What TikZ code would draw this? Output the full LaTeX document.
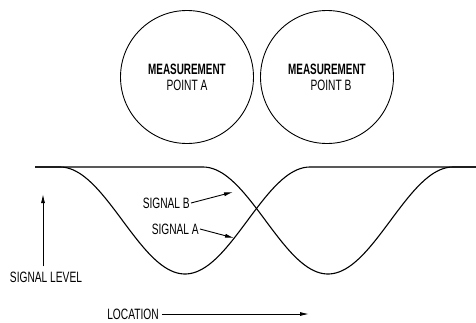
\documentclass[tikz,border=0pt]{standalone}
\usepackage{fontspec}
\newfontfamily\condfont[FakeStretch=0.68]{Liberation Sans}
\newfontfamily\condbold[FakeStretch=0.66]{Liberation Sans Bold}
\usetikzlibrary{arrows.meta}
\begin{document}
\begin{tikzpicture}[x=1pt,y=-1pt,
  lbl/.style={font=\condfont\fontsize{15}{16}\selectfont, inner sep=1pt, align=center},
  blbl/.style={font=\condbold\fontsize{15}{16}\selectfont, inner sep=1pt, align=center},
  ptcircle/.style={circle, draw, line width=0.9pt, minimum size=133pt, inner sep=0pt},
  sig/.style={line width=1.1pt, line join=round},
  pointer/.style={line width=0.9pt, -{Latex[length=9pt,width=4pt]}}]
\useasboundingbox (0,0) rectangle (476,322);
% measurement points
\node[ptcircle, blbl] (ptA) at (187,77) {MEASUREMENT\\{\condfont POINT A}};
\node[ptcircle, blbl] (ptB) at (327,77) {MEASUREMENT\\\hspace*{8pt}{\condfont POINT B}};
% signals
\draw[sig] (35,167) -- (60,167)
  -- plot[domain=60:310, samples=80, smooth] (\x,{167+53.5*(1+cos(1.44*(\x-185)))})
  -- (476,167);
\draw[sig] (35,167) -- (203,167)
  -- plot[domain=203:453, samples=80, smooth] (\x,{167+53.5*(1+cos(1.44*(\x-328)))})
  -- (476,167);
% labels
\node[lbl, anchor=east] (sB) at (191,203) {SIGNAL B};
\coordinate (tipB) at (233,192);
\draw[pointer] (sB.east) -- (tipB);
\node[lbl, anchor=east] (sA) at (200,229) {SIGNAL A};
\coordinate (tipA) at (234,238);
\draw[pointer] (sA.east) -- (tipA);
\node[lbl] (sl) at (46,277) {SIGNAL LEVEL};
\coordinate (sltop) at (43,194);
\draw[pointer] (sltop |- sl.north) ++(0,-4) -- (sltop);
\node[lbl] (loc) at (133,314) {LOCATION};
\coordinate (locend) at (309,314);
\draw[pointer] ([xshift=2pt]loc.east) -- (locend);
\end{tikzpicture}
\end{document}
